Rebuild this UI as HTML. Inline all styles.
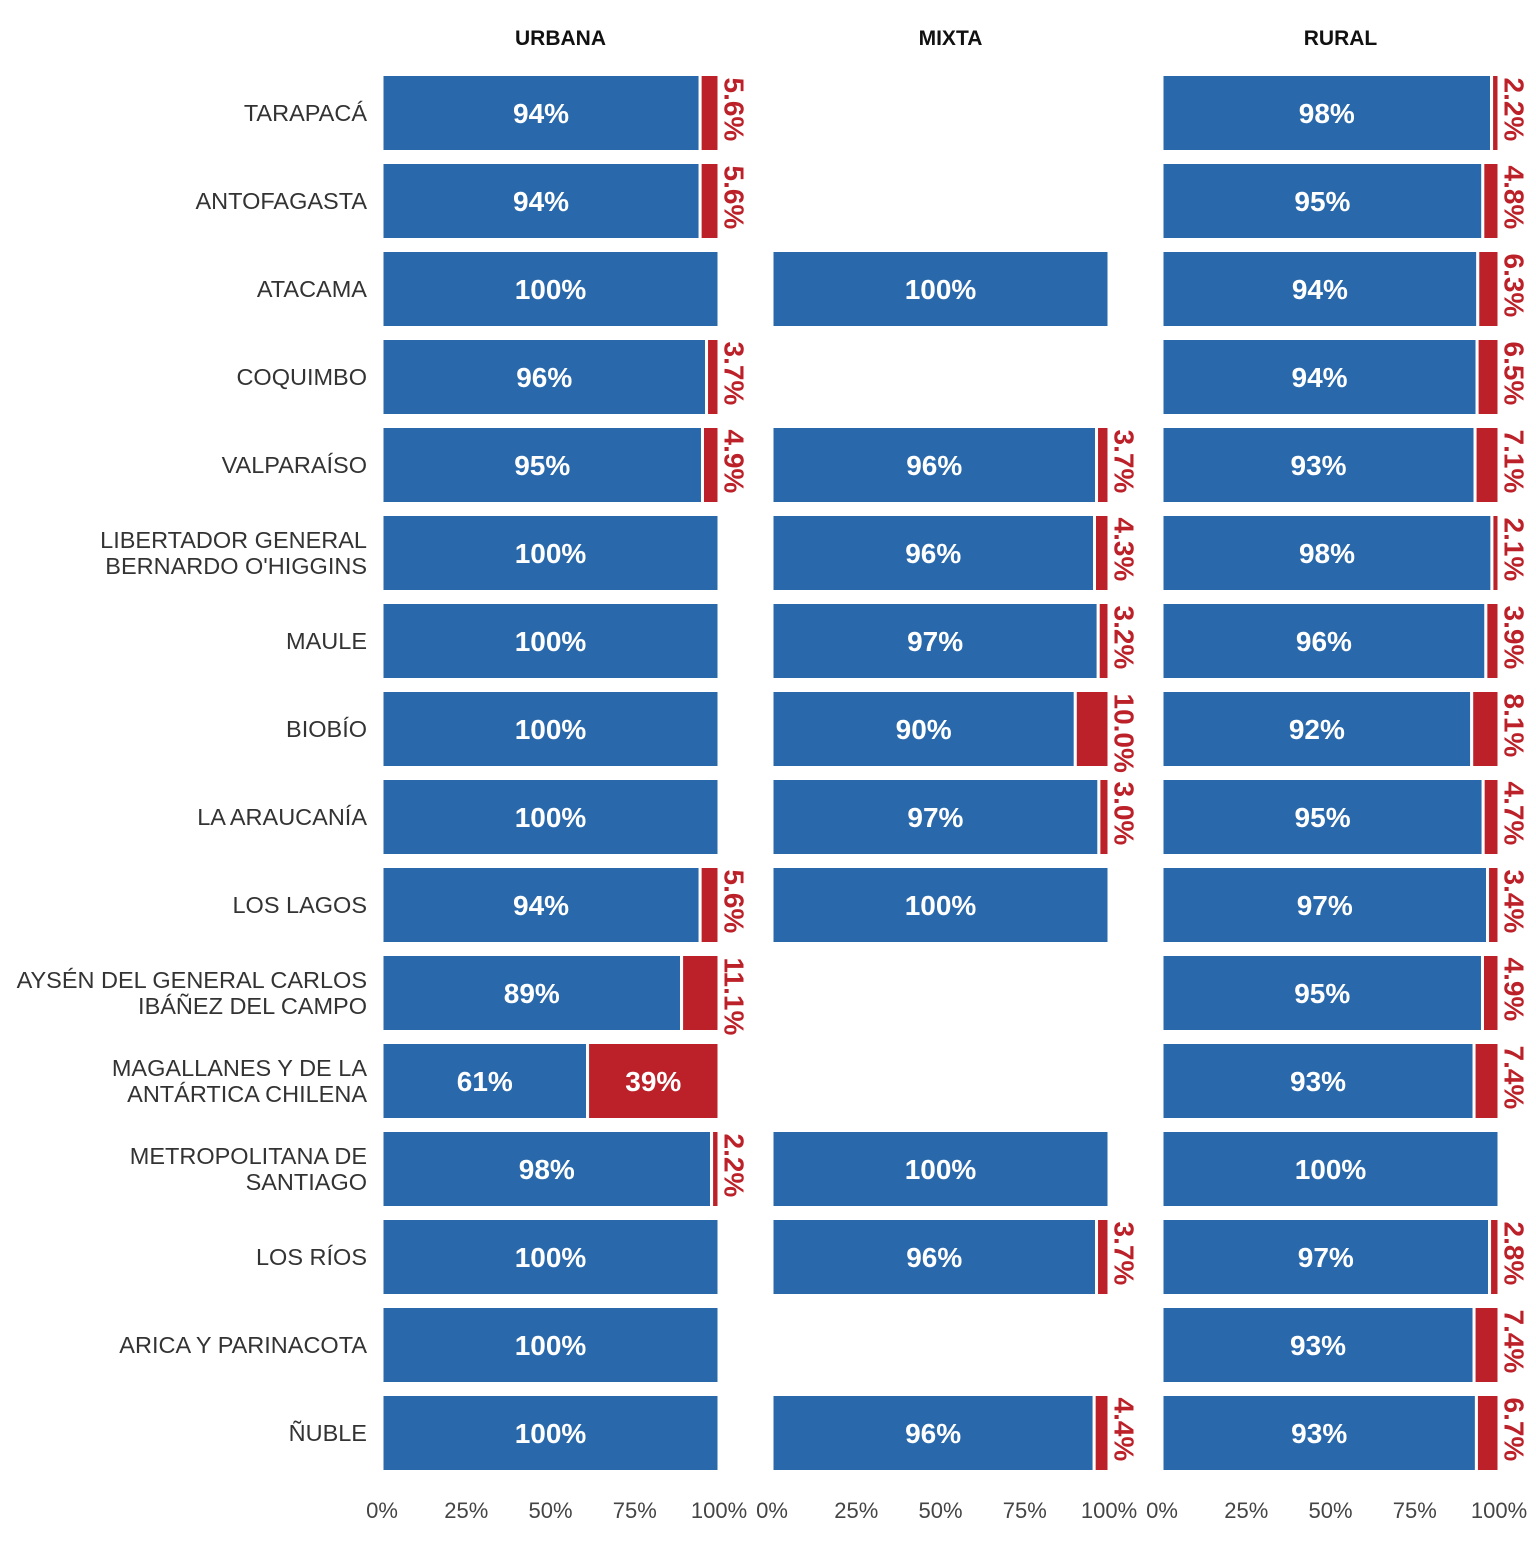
<!DOCTYPE html>
<html><head><meta charset="utf-8"><style>
body{margin:0;background:#fff}
text{font-family:"Liberation Sans",Arial,sans-serif}
</style></head><body>
<svg id="c" width="1536" height="1536" xmlns="http://www.w3.org/2000/svg"></svg>
<script>
const regions=["TARAPACÁ","ANTOFAGASTA","ATACAMA","COQUIMBO","VALPARAÍSO","LIBERTADOR GENERAL|BERNARDO O'HIGGINS","MAULE","BIOBÍO","LA ARAUCANÍA","LOS LAGOS","AYSÉN DEL GENERAL CARLOS|IBÁÑEZ DEL CAMPO","MAGALLANES Y DE LA|ANTÁRTICA CHILENA","METROPOLITANA DE|SANTIAGO","LOS RÍOS","ARICA Y PARINACOTA","ÑUBLE"];
const panels=["URBANA","MIXTA","RURAL"];
const urbanaBlue=[94.4,94.4,100,96.3,95.1,100,100,100,100,94.4,88.9,61,97.8,100,100,100];
const urbanaRed=[5.6,5.6,0,3.7,4.9,0,0,0,0,5.6,11.1,39,2.2,0,0,0];
const mixtaBlue=[null,null,100,null,96.3,95.7,96.8,90,97,100,null,null,100,96.3,null,95.6];
const mixtaRed=[null,null,0,null,3.7,4.3,3.2,10,3,0,null,null,0,3.7,null,4.4];
const ruralBlue=[97.8,95.2,93.7,93.5,92.9,97.9,96.1,91.9,95.3,96.6,95.1,92.6,100,97.2,92.6,93.3];
const ruralRed=[2.2,4.8,6.3,6.5,7.1,2.1,3.9,8.1,4.7,3.4,4.9,7.4,0,2.8,7.4,6.7];
const ticks=["0%","25%","50%","75%","100%"];
const blueS=[urbanaBlue,mixtaBlue,ruralBlue], redS=[urbanaRed,mixtaRed,ruralRed];
const svg=document.getElementById('c'), NS="http://www.w3.org/2000/svg";
const px0=[382,772,1162], PW=337;
function X(p,v){return px0[p]+PW*v/100;}
function Y(i){return 113+88*i;}
const BH=77;
function mk(tag,attrs,txt){const e=document.createElementNS(NS,tag);for(const k in attrs)e.setAttribute(k,attrs[k]);if(txt!=null)e.textContent=txt;svg.appendChild(e);return e;}
panels.forEach((p,pi)=>{
  const t=mk('text',{x:X(pi,50)+10,y:45,'text-anchor':'middle','font-size':21,'font-weight':'bold',fill:'#111'},p);
  
  
  ticks.forEach((tk,ti)=>{
    const e=mk('text',{x:X(pi,ti*25),y:1518,'text-anchor':'middle','font-size':22,fill:'#444'},tk);
    
    
  });
});
regions.forEach((r,i)=>{
  const lines=r.split('|');
  lines.forEach((ln,li)=>{
    const yy=Y(i)+8+(li-(lines.length-1)/2)*26;
    const e=mk('text',{x:367,y:yy,'text-anchor':'end','font-size':23.5,fill:'#333'},ln);
    
    
  });
  panels.forEach((p,pi)=>{
    const b=blueS[pi][i], rd=redS[pi][i];
    if(b==null)return;
    const top=Y(i)-BH/2;
    const br=mk('rect',{x:X(pi,0),y:top,width:X(pi,b)-X(pi,0),height:BH,fill:'#2868ab',stroke:'#fff','stroke-width':3});
    
    
    const bl=mk('text',{x:(X(pi,0)+X(pi,b))/2,y:Y(i)+10,'text-anchor':'middle','font-size':28,'font-weight':'bold',fill:'#fff'},Math.round(b)+'%');
    
    
    if(rd>0){
      const rr=mk('rect',{x:X(pi,b),y:top,width:X(pi,b+rd)-X(pi,b),height:BH,fill:'#bc2129',stroke:'#fff','stroke-width':3});
      
      
      if(rd>=15){
        const rl=mk('text',{x:(X(pi,b)+X(pi,b+rd))/2,y:Y(i)+10,'text-anchor':'middle','font-size':28,'font-weight':'bold',fill:'#fff'},Math.round(rd)+'%');
        
        
      }else{
        const lx=X(pi,b+rd)+15, ly=top+3;
        const rl=mk('text',{x:lx,y:ly,transform:`rotate(90 ${lx} ${ly})`,'text-anchor':'start','dominant-baseline':'central','font-size':28,'font-weight':'bold',fill:'#bc2129'},rd.toFixed(1)+'%');
        
        
      }
    }
  });
});
</script>
</body></html>
